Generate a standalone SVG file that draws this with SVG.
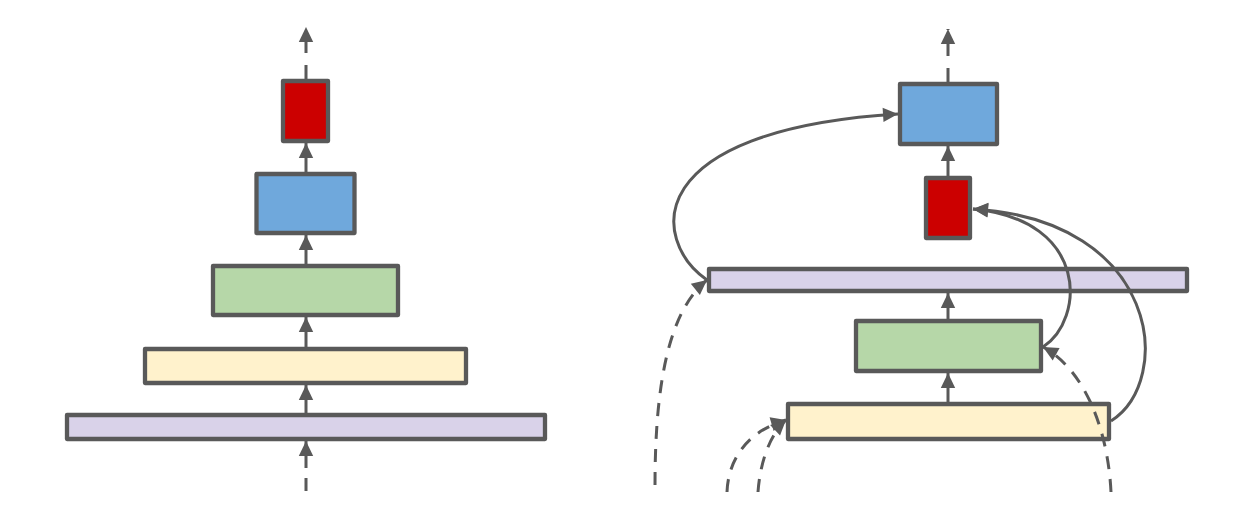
<svg xmlns="http://www.w3.org/2000/svg" width="1246" height="512" viewBox="0 0 1246 512">
<defs>
<marker id="ah" markerUnits="userSpaceOnUse" markerWidth="18" markerHeight="18" viewBox="0 0 18 18" refX="16" refY="9" orient="auto">
<path d="M1,1.8 L16,9 L1,16.2 z" fill="#595959"/>
</marker>
<style>
.box{stroke:#595959;stroke-width:4.3;stroke-linejoin:round}
.red{fill:#cc0000}.blue{fill:#6fa8dc}.green{fill:#b6d7a8}.yellow{fill:#fff2cc}.purple{fill:#d9d2e9}
.c{fill:none;stroke:#595959;stroke-width:3;marker-end:url(#ah)}
.d{stroke-dasharray:13 10}
</style>
</defs>
<rect width="1246" height="512" fill="#ffffff"/>
<g id="left-red"><rect class="box red" x="283" y="81" width="45" height="60"/></g>
<g id="left-blue"><rect class="box blue" x="256.5" y="174" width="98" height="59"/></g>
<g id="left-green"><rect class="box green" x="213" y="266" width="185" height="49"/></g>
<g id="left-yellow"><rect class="box yellow" x="145" y="349" width="321" height="34"/></g>
<g id="left-purple"><rect class="box purple" x="67" y="415" width="478" height="24"/></g>
<g id="right-blue"><rect class="box blue" x="900" y="84" width="97" height="60"/></g>
<g id="right-red"><rect class="box red" x="926" y="178" width="44" height="60"/></g>
<g id="right-purple"><rect class="box purple" x="709" y="269" width="478" height="22"/></g>
<g id="right-green"><rect class="box green" x="856" y="321" width="185" height="50"/></g>
<g id="right-yellow"><rect class="box yellow" x="788" y="404" width="321" height="35"/></g>
<g id="connectors">
<path class="c d" d="M306,79 L306,27" style="stroke-dasharray:14 12"/>
<path class="c" d="M306,172 L306,143"/>
<path class="c" d="M306,264 L306,235"/>
<path class="c" d="M306,347 L306,317"/>
<path class="c" d="M306,413 L306,385"/>
<path class="c d" d="M306,491 L306,441"/>
<path class="c d" d="M948,82 L948,29" style="stroke-dasharray:14 12"/>
<path class="c" d="M948,176 L948,146"/>
<path class="c" d="M948,319 L948,293"/>
<path class="c" d="M948,402 L948,373"/>
<path class="c" d="M707,280 C650,240 640,130 898,114"/>
<path class="c d" d="M655,485 C655,380 670,310 707,280"/>
<path class="c d" d="M727,492 C728,462 745,432 786,420"/>
<path class="c d" d="M758,492 C760,465 768,437 786,420"/>
<path class="c d" d="M1111,492 C1108,430 1085,370 1043,347"/>
<path class="c" d="M1043,347 C1085,320 1090,220 973,209"/>
<path class="c" d="M1111,421 C1175,380 1160,220 973,209"/>
</g>
</svg>
